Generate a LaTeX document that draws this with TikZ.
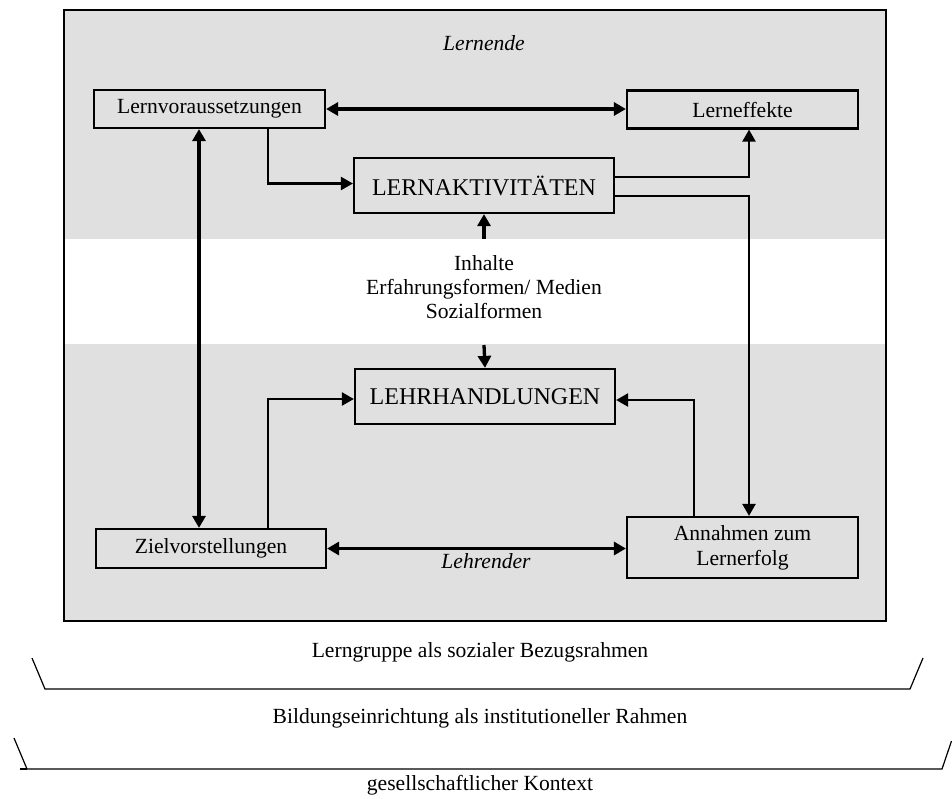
\documentclass[tikz,border=0pt]{standalone}
\usepackage{fontspec}
\setmainfont{Liberation Serif}
\usetikzlibrary{arrows.meta,calc}
\definecolor{bandgray}{RGB}{224,224,224}
\begin{document}
\begin{tikzpicture}[x=1pt,y=-1pt,
  box/.style={draw,line width=2.2pt,inner sep=0pt,align=center,font=\fontsize{21.6}{25}\selectfont},
  bigbox/.style={box,font=\fontsize{24}{28}\selectfont},
  lbl/.style={inner sep=0pt,align=center,font=\fontsize{21.6}{24}\selectfont},
  arr/.style={line width=2.3pt,-{Triangle[length=12pt,width=13pt]}},
  thickarr/.style={line width=3.3pt,-{Triangle[length=12pt,width=13pt]}},
  dblarr/.style={line width=3.3pt,{Triangle[length=12pt,width=13pt]}-{Triangle[length=12pt,width=13pt]}},
  bracket/.style={line width=1.2pt}]
\useasboundingbox (0,0) rectangle (952,798);
% background bands
\fill[bandgray] (64,10) rectangle (886,239);
\fill[bandgray] (64,344) rectangle (886,621);
\draw[line width=2.4pt] (64,10) rectangle (886,621);
% nodes
\node[box,minimum width=231pt,minimum height=38pt] (lv) at (209.5,109) {Lernvoraussetzungen};
\node[box,minimum width=231pt,minimum height=38pt] (le) at (742.5,109.5) {Lerneffekte};
\node[bigbox,minimum width=260pt,minimum height=55pt] (la) at (484,185.5) {LERNAKTIVITÄTEN};
\node[bigbox,minimum width=260pt,minimum height=55pt] (lh) at (485,396.5) {LEHRHANDLUNGEN};
\node[box,minimum width=230pt,minimum height=39pt] (zv) at (211,548.5) {Zielvorstellungen};
\node[box,minimum width=231pt,minimum height=61pt] (an) at (742.5,547.5) {Annahmen zum\\Lernerfolg};
% labels
\node[lbl,font=\fontsize{21.6}{24}\selectfont\itshape] (lernende) at (484,43) {Lernende};
\node[lbl] (inh) at (484,287) {Inhalte\\Erfahrungsformen/ Medien\\Sozialformen};
\node[lbl,font=\fontsize{21.6}{24}\selectfont\itshape] (lehrender) at (486,561) {Lehrender};
\node[lbl] (t1) at (480,652) {Lerngruppe als sozialer Bezugsrahmen};
\node[lbl] (t2) at (480,718) {Bildungseinrichtung als institutioneller Rahmen};
\node[lbl] (t3) at (480,785) {gesellschaftlicher Kontext};
% helper coordinates
\coordinate (c199) at (199,0);
\coordinate (c268) at (268,0);
\coordinate (c694) at (694,0);
\coordinate (c749) at (749,0);
\coordinate (inhtop) at (484,239);
\coordinate (inhbot) at (484,345);
% connectors
\draw[dblarr] (lv.east) -- (lv.east -| le.west);
\draw[dblarr] (lv.south -| c199) -- (zv.north -| c199);
\draw[arr] (lv.south -| c268) |- ($(la.west)+(0,-2)$);
\draw[arr] ($(la.east)+(0,-8.5)$) -| (le.south -| c749);
\draw[arr] ($(la.east)+(0,10.5)$) -| (an.north -| c749);
\draw[thickarr] (inhtop) -- (la.south);
\draw[thickarr] (inhbot) -- (lh.north);
\draw[arr] (zv.north -| c268) |- ($(lh.west)+(0,2.5)$);
\draw[arr] (an.north -| c694) |- ($(lh.east)+(0,3.5)$);
\draw[dblarr] (zv.east) -- (zv.east -| an.west);
% context brackets
\draw[bracket] (32,658) -- (45,689) -- (910,689) -- (923,658);
\draw[bracket] (14,738) -- (27,769) -- (942,769) -- (951.5,741);
\draw[bracket] (20,769) -- (27,769);
\end{tikzpicture}
\end{document}
